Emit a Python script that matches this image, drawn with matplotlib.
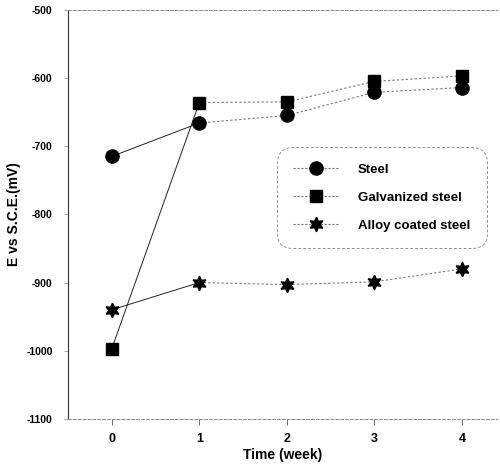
import matplotlib
matplotlib.use("Agg")
import matplotlib.pyplot as plt
from matplotlib.lines import Line2D

plt.rcParams['font.family'] = ['Liberation Sans', 'DejaVu Sans']
plt.rcParams['axes.unicode_minus'] = False

# Open circuit potential over immersion time
weeks = [0, 1, 2, 3, 4]
steel = [-715, -666, -655, -621, -614]
galvanized = [-997, -636, -635, -605, -597]
alloy = [-940, -900, -903, -899, -880]

series = [
    ("Steel", steel, "o", 9.5),
    ("Galvanized steel", galvanized, "s", 9),
    ("Alloy coated steel", alloy, (6, 1, 0), 10.5),
]

fig = plt.figure(figsize=(5.0, 4.67), dpi=100)
ax = fig.add_axes([0.136, 0.103, 0.858, 0.876])

handles = []
for name, vals, mk, ms in series:
    # first interval drawn solid, the rest as a faint dotted trace
    ax.plot(weeks[:2], vals[:2], color="#222222", lw=0.7, zorder=2)
    ax.plot(weeks[1:], vals[1:], color="#777777", lw=0.8,
            linestyle=(0, (2, 2)), zorder=2)
    ax.plot(weeks, vals, linestyle="none", marker=mk, ms=ms,
            color="black", zorder=3)
    handles.append(Line2D([], [], color="#777777", lw=0.8,
                          linestyle=(0, (2, 1.5)), marker=mk, ms=ms,
                          markerfacecolor="black", markeredgecolor="black"))

ax.set_xlim(-0.5, 4.4)
ax.set_ylim(-1100, -500)
ax.set_xticks(weeks)
ax.set_yticks(range(-1100, -499, 100))
ax.tick_params(axis="x", labelsize=9, length=4, width=0.6, pad=6,
               color="#555555")
ax.tick_params(axis="y", labelsize=7.5, length=3, width=0.6, pad=8,
               color="#999999")
for lab in ax.get_xticklabels() + ax.get_yticklabels():
    lab.set_fontweight("bold")

ax.spines["right"].set_visible(False)
ax.spines["left"].set_linewidth(0.8)
ax.spines["left"].set_color("#333333")
for side in ("top", "bottom"):
    ax.spines[side].set_linestyle((0, (3, 2)))
    ax.spines[side].set_linewidth(0.7)
    ax.spines[side].set_color("#888888")

ax.set_xlabel("Time (week)", fontsize=10, fontweight="bold", labelpad=2)
ax.set_ylabel("E vs S.C.E.(mV)", fontsize=10, fontweight="bold")
ax.yaxis.set_label_coords(-0.11, 0.5)

leg = fig.legend(handles, [s[0] for s in series],
                 loc="upper left", bbox_to_anchor=(0.554, 0.685),
                 frameon=True, fancybox=True,
                 prop={"weight": "bold", "size": 9.5},
                 handlelength=3.4, handletextpad=1.5, labelspacing=1.2,
                 borderpad=1.25, borderaxespad=0)
frame = leg.get_frame()
frame.set_boxstyle("round,pad=0,rounding_size=1.2")
frame.set_edgecolor("#777777")
frame.set_linewidth(0.7)
frame.set_linestyle((0, (3, 2)))

fig.savefig("out.png", dpi=100)
